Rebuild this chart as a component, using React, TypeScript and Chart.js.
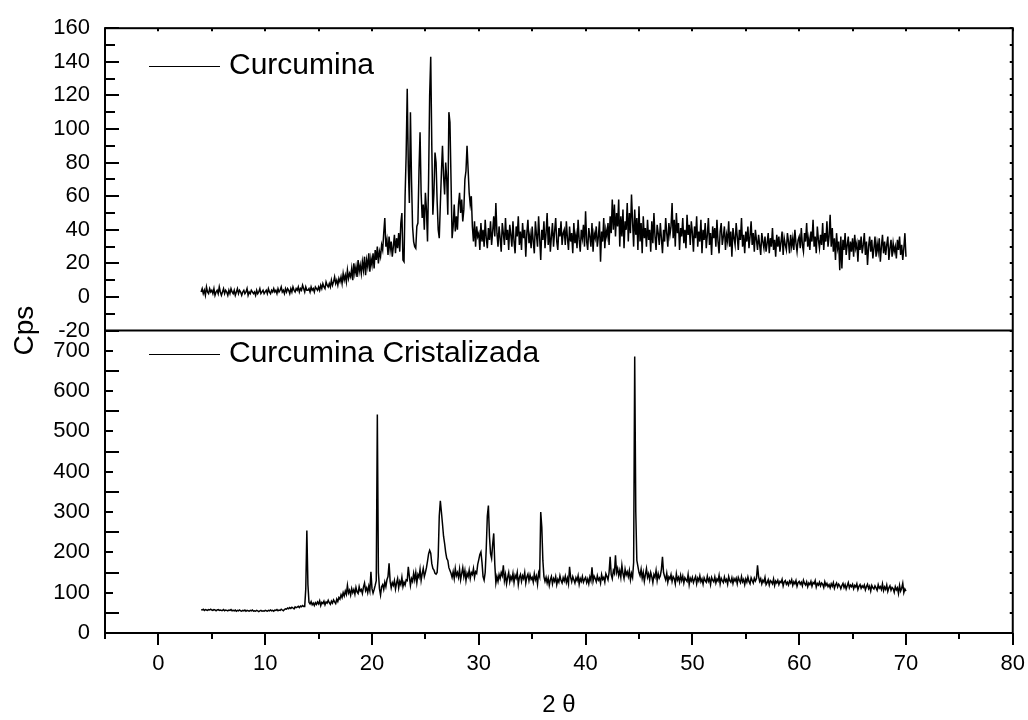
import React, { useEffect, useRef } from 'react';
import { Chart, registerables } from 'chart.js';

Chart.register(...registerables);

// 2θ grid of the diffractograms (degrees)
const TWO_THETA_START = 4;
const TWO_THETA_STEP = 0.1;

const SERIES_LABELS = ['Curcumina', 'Curcumina Cristalizada'];

// Curcumina (top panel), cps, 4.0 → 70.0 in 0.1° steps (one row per degree)
const curcuminaCps = [
  3, 5, 2, 4, 1, 6, 3, 2, 5, 3, // 4
  4, 2, 5, 1, 3, 4, 2, 6, 3, 1, // 5
  3, 5, 2, 4, 3, 1, 4, 2, 5, 3, // 6
  2, 4, 1, 3, 5, 2, 4, 3, 1, 3, // 7
  4, 2, 3, 5, 1, 3, 2, 4, 3, 2, // 8
  3, 1, 4, 2, 3, 5, 2, 3, 4, 2, // 9
  3, 4, 2, 5, 3, 2, 4, 3, 5, 3, // 10
  4, 2, 5, 3, 4, 6, 3, 4, 2, 5, // 11
  3, 5, 4, 2, 5, 3, 6, 4, 3, 5, // 12
  4, 6, 3, 5, 4, 7, 5, 3, 6, 4, // 13
  4, 5, 3, 6, 4, 5, 3, 6, 5, 4, // 14
  6, 4, 7, 5, 8, 6, 5, 9, 7, 6, // 15
  8, 6, 10, 7, 9, 12, 8, 10, 7, 11, // 16
  9, 12, 8, 14, 10, 13, 9, 16, 11, 14, // 17
  12, 17, 10, 20, 14, 18, 12, 22, 15, 19, // 18
  14, 21, 16, 24, 13, 22, 18, 26, 15, 23, // 19
  19, 26, 17, 28, 22, 30, 20, 27, 24, 31, // 20
  28, 38, 47, 30, 34, 25, 36, 28, 33, 24, // 21
  30, 37, 26, 35, 29, 38, 27, 44, 50, 22, // 22
  21, 60, 85, 124, 78, 56, 110, 70, 42, 33, // 23
  30, 29, 42, 44, 75, 98, 62, 47, 55, 40, // 24
  62, 52, 33, 70, 120, 143, 90, 49, 62, 86, // 25
  80, 57, 40, 35, 55, 74, 90, 72, 61, 80, // 26
  70, 49, 110, 104, 70, 35, 42, 55, 39, 48, // 27
  40, 55, 62, 50, 58, 45, 52, 70, 75, 90, // 28
  76, 62, 55, 60, 42, 33, 45, 30, 42, 36, // 29
  38, 28, 44, 33, 40, 30, 46, 35, 29, 41, // 30
  34, 45, 31, 39, 48, 36, 56, 38, 30, 42, // 31
  35, 27, 44, 38, 31, 47, 34, 40, 28, 43, // 32
  37, 30, 45, 33, 26, 42, 36, 48, 31, 39, // 33
  28, 44, 35, 40, 24, 38, 46, 32, 37, 29, // 34
  42, 33, 26, 45, 37, 30, 48, 35, 22, 40, // 35
  34, 45, 29, 38, 50, 31, 42, 27, 36, 44, // 36
  30, 39, 47, 33, 28, 41, 36, 45, 31, 38, // 37
  40, 31, 45, 35, 28, 42, 33, 38, 26, 44, // 38
  32, 37, 29, 46, 34, 27, 40, 35, 43, 30, // 39
  51, 33, 28, 41, 36, 30, 44, 27, 38, 35, // 40
  42, 30, 36, 45, 21, 39, 33, 47, 29, 40, // 41
  36, 44, 31, 48, 38, 58, 40, 55, 36, 50, // 42
  42, 58, 30, 48, 36, 52, 29, 45, 40, 56, // 43
  33, 50, 38, 61, 45, 30, 52, 37, 47, 28, // 44
  54, 33, 44, 26, 48, 35, 41, 30, 46, 34, // 45
  40, 27, 45, 32, 50, 36, 28, 43, 38, 31, // 46
  44, 35, 26, 40, 33, 47, 38, 30, 44, 37, // 47
  42, 56, 35, 46, 30, 50, 38, 44, 28, 41, // 48
  36, 47, 32, 40, 29, 49, 37, 43, 31, 45, // 49
  38, 27, 42, 35, 48, 30, 39, 33, 46, 26, // 50
  40, 34, 44, 29, 37, 47, 31, 38, 25, 42, // 51
  35, 41, 30, 46, 33, 26, 39, 44, 31, 36, // 52
  42, 28, 37, 33, 45, 30, 39, 24, 41, 35, // 53
  31, 44, 36, 28, 40, 34, 47, 30, 37, 26, // 54
  39, 33, 42, 29, 36, 45, 31, 38, 27, 40, // 55
  34, 28, 37, 31, 25, 38, 33, 29, 36, 27, // 56
  32, 38, 26, 35, 30, 41, 28, 34, 24, 37, // 57
  30, 36, 27, 33, 39, 25, 35, 31, 28, 38, // 58
  33, 26, 37, 30, 35, 28, 40, 32, 27, 34, // 59
  36, 29, 41, 31, 27, 38, 33, 44, 30, 35, // 60
  28, 39, 33, 46, 30, 36, 26, 42, 34, 29, // 61
  37, 31, 44, 28, 38, 33, 45, 30, 36, 49, // 62
  30, 41, 27, 35, 22, 38, 29, 33, 16, 36, // 63
  17, 34, 28, 38, 25, 31, 36, 22, 33, 27, // 64
  35, 24, 37, 29, 32, 21, 34, 28, 36, 26, // 65
  31, 38, 25, 33, 19, 30, 36, 27, 34, 23, // 66
  29, 36, 24, 32, 27, 35, 21, 30, 37, 26, // 67
  33, 25, 31, 36, 22, 29, 34, 24, 32, 27, // 68
  30, 23, 34, 28, 36, 25, 31, 22, 29, 38, // 69
  24, // 70
];

// Curcumina Cristalizada (bottom panel), cps, 4.0 → 70.0 in 0.1° steps
const cristalizadaCps = [
  58, 57, 59, 56, 58, 57, 56, 58, 57, 59, // 4
  57, 56, 58, 57, 55, 57, 58, 56, 57, 56, // 5
  56, 58, 55, 57, 56, 55, 57, 56, 58, 55, // 6
  56, 55, 57, 54, 56, 55, 57, 55, 54, 56, // 7
  55, 57, 54, 56, 55, 54, 56, 55, 57, 54, // 8
  55, 54, 56, 55, 53, 55, 56, 54, 55, 54, // 9
  56, 55, 54, 56, 55, 57, 55, 56, 54, 57, // 10
  56, 58, 55, 57, 56, 59, 57, 55, 58, 60, // 11
  59, 62, 60, 63, 61, 64, 62, 60, 65, 63, // 12
  64, 66, 63, 67, 65, 68, 66, 66, 110, 254, // 13
  120, 76, 72, 78, 70, 74, 68, 75, 71, 77, // 14
  72, 80, 68, 76, 73, 79, 70, 77, 74, 81, // 15
  75, 71, 79, 74, 82, 77, 73, 84, 78, 88, // 16
  84, 95, 88, 100, 92, 104, 96, 118, 99, 106, // 17
  94, 110, 100, 108, 96, 113, 102, 98, 115, 104, // 18
  108, 98, 114, 124, 105, 112, 100, 116, 104, 152, // 19
  110, 99, 108, 118, 130, 542, 150, 110, 94, 115, // 20
  120, 108, 126, 115, 132, 140, 173, 128, 112, 125, // 21
  118, 130, 109, 124, 135, 112, 128, 120, 138, 115, // 22
  126, 119, 132, 130, 164, 140, 118, 135, 128, 148, // 23
  132, 150, 125, 145, 138, 158, 130, 147, 160, 140, // 24
  150, 162, 178, 196, 205, 198, 172, 160, 156, 148, // 25
  146, 150, 190, 290, 328, 300, 271, 240, 222, 200, // 26
  185, 180, 162, 155, 148, 138, 152, 135, 160, 142, // 27
  150, 138, 158, 132, 147, 162, 140, 155, 130, 148, // 28
  140, 156, 135, 150, 145, 160, 138, 152, 148, 170, // 29
  182, 195, 201, 175, 140, 131, 150, 210, 290, 316, // 30
  240, 197, 185, 220, 247, 170, 124, 140, 128, 145, // 31
  135, 150, 142, 168, 130, 145, 122, 138, 150, 127, // 32
  140, 132, 148, 125, 143, 136, 150, 120, 138, 145, // 33
  128, 142, 135, 150, 124, 139, 146, 130, 144, 133, // 34
  138, 126, 147, 132, 141, 121, 149, 140, 300, 263, // 35
  180, 140, 128, 138, 124, 136, 118, 132, 140, 122, // 36
  135, 128, 140, 120, 133, 126, 142, 130, 124, 137, // 37
  129, 141, 125, 136, 122, 164, 138, 127, 140, 132, // 38
  124, 137, 130, 142, 121, 135, 128, 140, 126, 133, // 39
  138, 125, 134, 122, 139, 130, 163, 128, 141, 135, // 40
  127, 142, 131, 136, 124, 145, 133, 138, 126, 147, // 41
  140, 132, 150, 189, 145, 135, 155, 148, 193, 150, // 42
  160, 142, 155, 138, 168, 147, 135, 158, 144, 152, // 43
  140, 155, 132, 148, 138, 175, 686, 300, 180, 165, // 44
  150, 142, 158, 136, 150, 128, 145, 160, 138, 147, // 45
  132, 150, 140, 125, 145, 138, 155, 130, 147, 136, // 46
  142, 158, 189, 150, 140, 132, 148, 126, 139, 134, // 47
  145, 128, 140, 135, 122, 147, 131, 138, 126, 143, // 48
  130, 141, 124, 137, 132, 128, 145, 120, 136, 129, // 49
  138, 125, 133, 140, 122, 136, 129, 142, 127, 134, // 50
  121, 137, 130, 126, 141, 128, 135, 120, 138, 131, // 51
  127, 139, 124, 134, 129, 143, 122, 136, 130, 125, // 52
  139, 128, 133, 121, 140, 130, 126, 137, 123, 135, // 53
  129, 136, 122, 138, 131, 125, 140, 127, 133, 120, // 54
  134, 126, 139, 128, 122, 137, 130, 124, 136, 129, // 55
  135, 168, 140, 128, 135, 122, 131, 126, 138, 120, // 56
  125, 132, 119, 130, 127, 122, 134, 118, 129, 124, // 57
  131, 120, 128, 125, 133, 117, 127, 130, 121, 126, // 58
  119, 129, 124, 132, 118, 127, 122, 130, 116, 125, // 59
  128, 121, 126, 117, 131, 123, 119, 127, 115, 124, // 60
  120, 128, 116, 125, 122, 130, 114, 123, 119, 126, // 61
  117, 124, 121, 113, 127, 118, 123, 115, 120, 112, // 62
  122, 116, 125, 111, 119, 124, 114, 121, 117, 110, // 63
  118, 123, 113, 120, 109, 117, 125, 112, 119, 115, // 64
  121, 110, 118, 114, 122, 108, 116, 120, 111, 117, // 65
  113, 119, 107, 115, 121, 110, 116, 104, 118, 112, // 66
  109, 117, 112, 106, 120, 111, 115, 108, 122, 105, // 67
  114, 108, 119, 103, 112, 117, 106, 113, 110, 101, // 68
  115, 107, 112, 98, 118, 104, 111, 123, 100, 109, // 69
  104, // 70
];

// Axis ranges and tick steps
const X_RANGE = [-5, 80];
const X_LABEL_STEP = 10;
const X_MINOR_STEP = 5;
const TOP_Y_RANGE = [-20, 160];
const TOP_Y_LABEL_STEP = 20;
const TOP_Y_MINOR_STEP = 10;
const BOTTOM_Y_RANGE = [0, 750];
const BOTTOM_Y_LABEL_STEP = 100;
const BOTTOM_Y_MINOR_STEP = 50;

const FONT = "'Liberation Sans', Arial, Helvetica, sans-serif";

const toPoints = (vals: number[]) =>
  vals.map((v, i) => ({ x: +(TWO_THETA_START + i * TWO_THETA_STEP).toFixed(1), y: v }));

// Frame, panel divider and tick marks (Origin-style), drawn from the chart's scales
const framePlugin = {
  id: 'originFrame',
  afterDraw(chart: any) {
    const { ctx, chartArea: a, scales } = chart;
    const xs = scales.x;
    const y1 = scales.y1;
    const y2 = scales.y2;
    ctx.save();
    ctx.strokeStyle = '#000';
    ctx.lineWidth = 2;
    ctx.lineCap = 'butt';
    ctx.strokeRect(a.left, a.top, a.right - a.left, a.bottom - a.top);
    ctx.beginPath();
    ctx.moveTo(a.left, y1.bottom);
    ctx.lineTo(a.right, y1.bottom);
    ctx.stroke();

    ctx.beginPath();
    const seg = (x0: number, yA: number, x1: number, yB: number) => {
      ctx.moveTo(x0, yA);
      ctx.lineTo(x1, yB);
    };
    // bottom (outside) and top (inside) ticks
    for (let v = X_RANGE[0]; v <= X_RANGE[1]; v += X_MINOR_STEP) {
      const px = Math.round(xs.getPixelForValue(v));
      const major = v % X_LABEL_STEP === 0;
      seg(px, a.bottom, px, a.bottom + (major ? 12 : 6));
      seg(px, a.top, px, a.top + 3);
    }
    // top panel: left (inside) and right (inside) ticks
    for (let v = TOP_Y_RANGE[0]; v <= TOP_Y_RANGE[1]; v += TOP_Y_MINOR_STEP) {
      const py = Math.round(y1.getPixelForValue(v));
      const major = v % TOP_Y_LABEL_STEP === 0;
      seg(a.left, py, a.left + (major ? 14 : 10), py);
      seg(a.right, py, a.right - 3, py);
    }
    // bottom panel
    for (let v = BOTTOM_Y_RANGE[0]; v <= BOTTOM_Y_RANGE[1]; v += BOTTOM_Y_MINOR_STEP) {
      const py = Math.round(y2.getPixelForValue(v));
      const major = v % BOTTOM_Y_LABEL_STEP === 0;
      seg(a.left, py, a.left + (major ? 8 : 14), py);
      seg(a.right, py, a.right - 3, py);
    }
    ctx.stroke();
    ctx.restore();
  },
};

// One legend entry inside each panel, taken from the datasets
const LEGEND_INSET_X = 44;
const LEGEND_LINE_LEN = 71;
const LEGEND_TEXT_GAP = 9;
const LEGEND_PANEL_OFFSET_Y = [38, 23];

const panelLegendPlugin = {
  id: 'panelLegend',
  afterDraw(chart: any) {
    const { ctx, chartArea: a } = chart;
    ctx.save();
    chart.data.datasets.forEach((ds: any, i: number) => {
      const scale = chart.scales[ds.yAxisID];
      const y = Math.round(scale.top + LEGEND_PANEL_OFFSET_Y[i]);
      const x0 = a.left + LEGEND_INSET_X;
      ctx.strokeStyle = ds.borderColor;
      ctx.lineWidth = 1;
      ctx.beginPath();
      ctx.moveTo(x0, y + 0.5);
      ctx.lineTo(x0 + LEGEND_LINE_LEN, y + 0.5);
      ctx.stroke();
      ctx.fillStyle = '#000';
      ctx.font = `30px ${FONT}`;
      ctx.textAlign = 'left';
      ctx.textBaseline = 'middle';
      ctx.fillText(ds.label, x0 + LEGEND_LINE_LEN + LEGEND_TEXT_GAP, y);
    });
    ctx.restore();
  },
};

export default function App() {
  const canvasRef = useRef<HTMLCanvasElement | null>(null);

  useEffect(() => {
    const canvas = canvasRef.current;
    if (!canvas) return;
    const tickFont = { family: FONT, size: 22 };
    const chart = new Chart(canvas, {
      type: 'line',
      data: {
        datasets: [
          {
            label: SERIES_LABELS[0],
            data: toPoints(curcuminaCps),
            yAxisID: 'y1',
            borderColor: '#000',
            borderWidth: 1.5,
            pointRadius: 0,
            tension: 0,
          },
          {
            label: SERIES_LABELS[1],
            data: toPoints(cristalizadaCps),
            yAxisID: 'y2',
            borderColor: '#000',
            borderWidth: 1.5,
            pointRadius: 0,
            tension: 0,
          },
        ],
      },
      options: {
        animation: false,
        responsive: false,
        devicePixelRatio: 1,
        layout: { padding: { left: 0, top: 27, right: 15, bottom: 0 } },
        plugins: {
          legend: { display: false },
          tooltip: { enabled: false },
        },
        scales: {
          x: {
            type: 'linear',
            position: 'bottom',
            min: X_RANGE[0],
            max: X_RANGE[1],
            grid: {
              display: true,
              drawOnChartArea: false,
              drawTicks: true,
              tickLength: 15,
              tickColor: 'rgba(0,0,0,0)',
            },
            border: { display: false },
            ticks: {
              stepSize: X_LABEL_STEP,
              includeBounds: false,
              autoSkip: false,
              maxRotation: 0,
              padding: 3,
              color: '#000',
              font: tickFont,
            },
            title: {
              display: true,
              text: '2 θ',
              color: '#000',
              font: { family: FONT, size: 24 },
              padding: { top: 0, bottom: 0 },
            },
            afterFit: (s: any) => {
              s.height = 87;
            },
          },
          yt: {
            type: 'linear',
            position: 'left',
            weight: 10,
            grid: { display: false, drawTicks: false },
            border: { display: false },
            ticks: { display: false },
            title: {
              display: true,
              text: 'Cps',
              color: '#000',
              font: { family: FONT, size: 28 },
              padding: { top: 8, bottom: 0 },
            },
            afterFit: (s: any) => {
              s.width = 40;
            },
          },
          y1: {
            type: 'linear',
            position: 'left',
            stack: 'panels',
            stackWeight: 1,
            weight: 2,
            min: TOP_Y_RANGE[0],
            max: TOP_Y_RANGE[1],
            grid: { display: false, drawTicks: false },
            border: { display: false },
            ticks: {
              stepSize: TOP_Y_LABEL_STEP,
              autoSkip: false,
              padding: 15,
              color: '#000',
              font: tickFont,
            },
            afterFit: (s: any) => {
              s.width = 65;
            },
          },
          y2: {
            type: 'linear',
            position: 'left',
            stack: 'panels',
            stackWeight: 1,
            weight: 1,
            min: BOTTOM_Y_RANGE[0],
            max: BOTTOM_Y_RANGE[1],
            grid: { display: false, drawTicks: false },
            border: { display: false },
            ticks: {
              stepSize: BOTTOM_Y_LABEL_STEP,
              includeBounds: false,
              autoSkip: false,
              padding: 15,
              color: '#000',
              font: tickFont,
            },
            afterFit: (s: any) => {
              s.width = 65;
            },
          },
        },
      } as any,
      plugins: [framePlugin, panelLegendPlugin],
    } as any);
    return () => chart.destroy();
  }, []);

  return (
    <div style={{ position: 'absolute', left: 0, top: 0, width: 1028, height: 720, background: '#fff' }}>
      <canvas ref={canvasRef} width={1028} height={720} style={{ display: 'block', width: 1028, height: 720 }} />
    </div>
  );
}
